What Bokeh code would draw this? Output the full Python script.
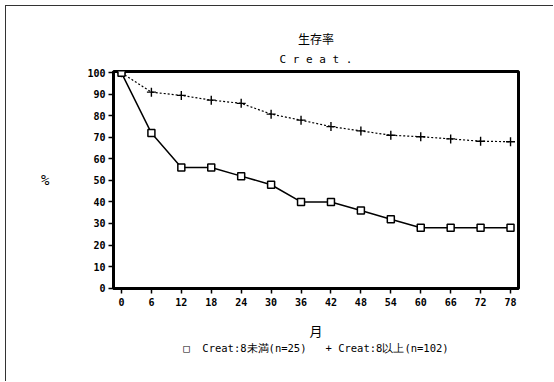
from bokeh.plotting import figure
from bokeh.models import Range1d, FixedTicker, Title
from bokeh.embed import file_html
from bokeh.resources import INLINE

# ---- data ----
months = [0, 6, 12, 18, 24, 30, 36, 42, 48, 54, 60, 66, 72, 78]
under8 = [100, 72, 56, 56, 52, 48, 40, 40, 36, 32, 28, 28, 28, 28]
over8 = [100, 91, 89.5, 87.3, 85.8, 80.8, 78, 75, 73, 71, 70.3, 69.3, 68.2, 68]
x_ticks = [0, 6, 12, 18, 24, 30, 36, 42, 48, 54, 60, 66, 72, 78]
y_ticks = [0, 10, 20, 30, 40, 50, 60, 70, 80, 90, 100]
title_main = "生存率"
title_sub = "C r e a t ."
legend_labels = ["Creat:8未満(n=25)", "Creat:8以上(n=102)"]
legend_symbols = ["□", "+"]
x_label = "月"
y_label = "%"

W, H = 548, 376
FL, FR, FT, FB = 107, 512, 65, 282  # frame edges in canvas px

p = figure(width=W, height=H, output_backend="svg", toolbar_location=None,
           x_range=Range1d(-1.6, 79.6), y_range=Range1d(-0.2, 100.6),
           min_border_left=FL, min_border_right=W - FR,
           min_border_top=FT, min_border_bottom=H - FB)
p.styles = {"margin-left": "5px", "margin-top": "5px",
            "border-left": "1px solid #333", "border-top": "1px solid #333"}

p.xgrid.visible = False
p.ygrid.visible = False
p.outline_line_color = "black"
p.outline_line_width = 3
p.background_fill_color = "white"
p.border_fill_color = "white"

tick_font = "DejaVu Sans Mono"
for ax in (p.xaxis[0], p.yaxis[0]):
    ax.axis_line_color = "black"
    ax.axis_line_width = 3
    ax.major_tick_line_color = "black"
    ax.major_tick_line_width = 1.5
    ax.major_tick_in = 0
    ax.major_tick_out = 5
    ax.minor_tick_line_color = None
    ax.major_label_text_font = tick_font
    ax.major_label_text_font_style = "bold"
    ax.major_label_text_font_size = "10px"
    ax.major_label_text_color = "black"
    ax.axis_label_text_font_style = "normal"
    ax.axis_label_text_color = "black"

p.xaxis[0].ticker = FixedTicker(ticks=x_ticks)
p.yaxis[0].ticker = FixedTicker(ticks=y_ticks)
p.xaxis[0].major_label_standoff = 4
p.yaxis[0].major_label_standoff = 3

p.xaxis[0].axis_label = x_label
p.xaxis[0].axis_label_text_font = "Noto Sans CJK JP"
p.xaxis[0].axis_label_text_font_size = "13px"
p.xaxis[0].axis_label_standoff = 12

p.yaxis[0].axis_label = y_label
p.yaxis[0].axis_label_orientation = "horizontal"
p.yaxis[0].axis_label_text_font = "DejaVu Sans Mono"
p.yaxis[0].axis_label_text_font_size = "14px"
p.yaxis[0].axis_label_standoff = 35

# series
p.line(months, over8, line_color="black", line_width=1.2, line_dash="2 2")
p.scatter(months, over8, marker="cross", size=9, line_color="black", line_width=1.4)
p.line(months, under8, line_color="black", line_width=1.5)
p.scatter(months, under8, marker="square", size=7, line_color="black",
          fill_color="white", line_width=1.5)

# titles: p.title is outermost, the added one sits next to the frame
p.title.text = title_main
p.title.align = "center"
p.title.text_font = "Noto Sans CJK JP"
p.title.text_font_size = "12px"
p.title.text_font_style = "normal"
p.title.text_color = "black"
p.title.standoff = -5
p.add_layout(Title(text=title_sub, align="center", text_font="DejaVu Sans Mono",
                   text_font_size="11px", text_font_style="normal",
                   text_color="black", standoff=12), "above")

# legend line under the x axis
nb = "\u00a0"
legend_text = (legend_symbols[0] + nb * 2 + legend_labels[0] + nb * 3 +
               legend_symbols[1] + nb + legend_labels[1])
p.add_layout(Title(text=legend_text, align="center", text_font="DejaVu Sans Mono",
                   text_font_size="10.5px", text_font_style="normal",
                   text_color="black", standoff=-5, offset=-3), "below")

open("out.html", "w").write(file_html(p, INLINE))
